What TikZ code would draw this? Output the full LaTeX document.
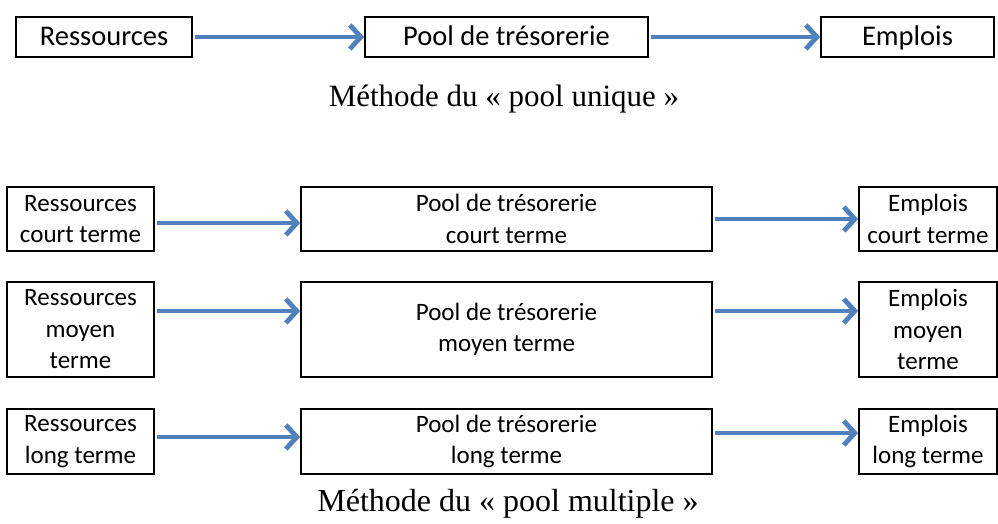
\documentclass[tikz,border=0pt]{standalone}
\usepackage{fontspec}
\setmainfont{Liberation Serif}
\newfontfamily\boxfont{Carlito}
\usetikzlibrary{arrows.meta}
\definecolor{arrowblue}{RGB}{79,129,189}
\begin{document}
\begin{tikzpicture}[x=1pt,y=-1pt,
  boxnode/.style={draw=black, line width=1.8pt, rectangle, inner sep=0pt, align=center},
  bigbox/.style={boxnode, font=\boxfont\fontsize{28.5}{34}\selectfont, text height=21pt, text depth=4pt},
  smallbox/.style={boxnode, font=\boxfont\fontsize{25}{31.5}\selectfont},
  flow/.style={draw=arrowblue, line width=4.8pt, shorten <=2pt,
    -{Straight Barb[length=11pt,width=24pt]}},
  caption/.style={anchor=base, inner sep=0pt}
]
\useasboundingbox (0,0) rectangle (998,524);
% top: single pool
\node[bigbox, minimum width=176pt, minimum height=40pt] (R0) at (104,37) {Ressources};
\node[bigbox, minimum width=283pt, minimum height=40pt] (P0) at (506.5,37) {Pool de trésorerie};
\node[bigbox, minimum width=173pt, minimum height=40pt] (E0) at (907.5,37) {Emplois};
\draw[flow] (R0.east) -- (P0.west);
\draw[flow] (P0.east) -- (E0.west);
\node[caption, font=\fontsize{31}{36}\selectfont] (C0) at (504,107) {Méthode du « pool unique »};
% row 1
\node[smallbox, minimum width=147pt, minimum height=64pt] (R1) at (80.5,219) {Ressources\\court terme};
\node[smallbox, minimum width=411pt, minimum height=64pt] (P1) at (506.5,219) {Pool de trésorerie\\court terme};
\node[smallbox, minimum width=138pt, minimum height=64pt] (E1) at (928,219) {Emplois\\court terme};
\draw[flow] ([yshift=-4pt]R1.east) -- ([yshift=-4pt]P1.west);
\draw[flow] (P1.east) -- (E1.west);
% row 2
\node[smallbox, minimum width=147pt, minimum height=95pt] (R2) at (80.5,329.5) {Ressources\\moyen\\terme};
\node[smallbox, minimum width=411pt, minimum height=95pt] (P2) at (506.5,329.5) {Pool de trésorerie\\moyen terme};
\node[smallbox, minimum width=138pt, minimum height=95pt] (E2) at (928,329.5) {Emplois\\moyen\\terme};
\draw[flow] ([yshift=18.5pt]R2.east) -- ([yshift=18.5pt]P2.west);
\draw[flow] ([yshift=18.5pt]P2.east) -- ([yshift=18.5pt]E2.west);
% row 3
\node[smallbox, minimum width=147pt, minimum height=65pt] (R3) at (80.5,441.5) {Ressources\\long terme};
\node[smallbox, minimum width=411pt, minimum height=65pt] (P3) at (506.5,441.5) {Pool de trésorerie\\long terme};
\node[smallbox, minimum width=138pt, minimum height=65pt] (E3) at (928,441.5) {Emplois\\long terme};
\draw[flow] ([yshift=4.5pt]R3.east) -- ([yshift=4.5pt]P3.west);
\draw[flow] ([yshift=8.5pt]P3.east) -- ([yshift=8.5pt]E3.west);
\node[caption, font=\fontsize{32}{37}\selectfont] (C1) at (508,511) {Méthode du « pool multiple »};
\end{tikzpicture}
\end{document}
